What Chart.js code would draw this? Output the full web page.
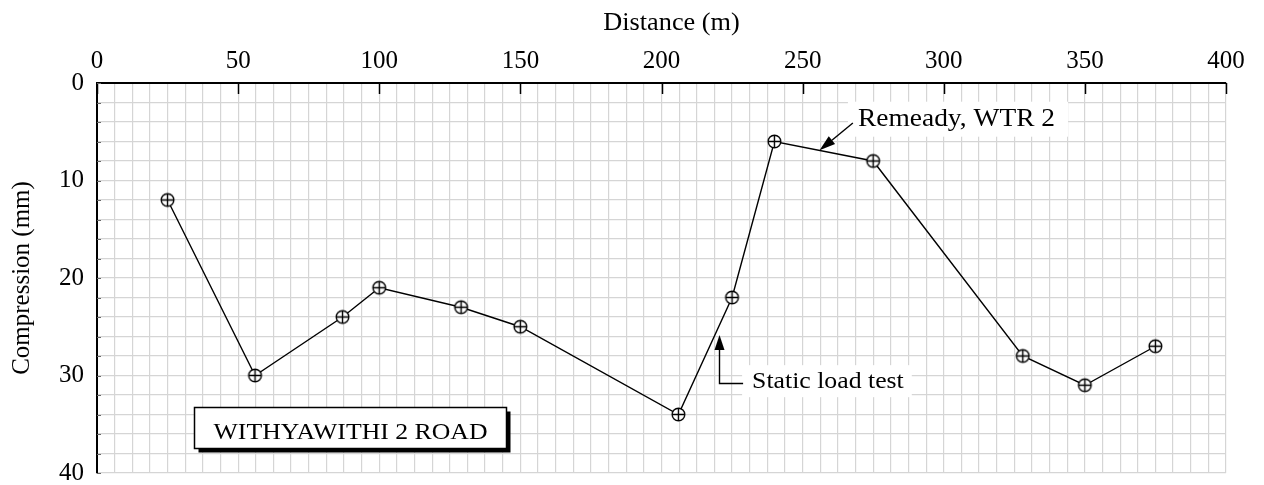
<!DOCTYPE html>
<html>
<head>
<meta charset="utf-8">
<script src="https://cdn.jsdelivr.net/npm/chart.js@4.4.0/dist/chart.umd.min.js"></script>
<style>
  html, body { margin: 0; padding: 0; background: #fff; }
  #wrap { width: 1264px; height: 485px; }
</style>
</head>
<body>
<div id="wrap"><canvas id="c" width="1264" height="485"></canvas></div>
<script>
// Survey stations along the road and measured compression
const distance    = [25, 56, 87, 100, 129, 150, 206, 225, 240, 275, 328, 350, 375];
const compression = [12, 30, 24, 21, 23, 25, 34, 22, 6, 8, 28, 31, 27];

// Labelled ticks on each axis
const xTickLabels = [0, 50, 100, 150, 200, 250, 300, 350, 400];
const yTickLabels = [0, 10, 20, 30, 40];

// Grid spacing (8 divisions per 50 m, 5 per 10 mm)
const xGridStep = 6.25;
const yGridStep = 2;

const SERIF = '"Liberation Serif", "Times New Roman", serif';
const GRID = '#d5d5d5';
const STRETCH = 1.12;

function gridValues(min, max, step) {
  const out = [];
  for (let v = min; v <= max + 1e-9; v += step) out.push(+v.toFixed(4));
  return out;
}

// Circle-with-cross marker
function makeMarker(r) {
  const s = Math.ceil(2 * r + 4);
  const c = document.createElement('canvas');
  c.width = s; c.height = s;
  const g = c.getContext('2d');
  const m = s / 2;
  g.fillStyle = '#fff';
  g.strokeStyle = '#000';
  g.lineWidth = 1.4;
  g.beginPath(); g.arc(m, m, r, 0, Math.PI * 2); g.fill(); g.stroke();
  g.beginPath();
  g.moveTo(m - r, m); g.lineTo(m + r, m);
  g.moveTo(m, m - r); g.lineTo(m, m + r);
  g.stroke();
  return c;
}

function stretchedText(ctx, text, x, y, size, stretch = STRETCH, align = 'left') {
  ctx.save();
  ctx.font = size + 'px ' + SERIF;
  ctx.translate(x, y);
  ctx.scale(stretch, 1);
  ctx.fillStyle = '#000';
  ctx.textBaseline = 'alphabetic';
  ctx.textAlign = align;
  ctx.fillText(text, 0, 0);
  ctx.restore();
}

function measureStretched(ctx, text, size) {
  ctx.save();
  ctx.font = size + 'px ' + SERIF;
  const w = ctx.measureText(text).width * STRETCH;
  ctx.restore();
  return w;
}

function arrow(ctx, x1, y1, x2, y2, headLen, headHalf) {
  const ang = Math.atan2(y2 - y1, x2 - x1);
  const bx = x2 - headLen * Math.cos(ang);
  const by = y2 - headLen * Math.sin(ang);
  ctx.beginPath();
  ctx.moveTo(x1, y1); ctx.lineTo(bx, by);
  ctx.stroke();
  ctx.beginPath();
  ctx.moveTo(x2, y2);
  ctx.lineTo(bx + headHalf * Math.sin(ang), by - headHalf * Math.cos(ang));
  ctx.lineTo(bx - headHalf * Math.sin(ang), by + headHalf * Math.cos(ang));
  ctx.closePath();
  ctx.fill();
}

// Axis title above the top scale, inner axis ticks, callouts and the road name box
const annotations = {
  id: 'annotations',
  afterDatasetsDraw(chart) {
    const { ctx, chartArea, scales } = chart;
    const xs = scales.x, ys = scales.y;
    const px = v => xs.getPixelForValue(v);
    const py = v => ys.getPixelForValue(v);

    ctx.save();
    // top axis title
    stretchedText(ctx, 'Distance (m)', (chartArea.left + chartArea.right) / 2 + 10, 30, 25, 1.05, 'center');

    // major ticks hanging from the top axis
    ctx.strokeStyle = '#000';
    ctx.lineWidth = 1.5;
    xTickLabels.forEach(v => {
      const x = Math.round(px(v)) + 0.5;
      ctx.beginPath(); ctx.moveTo(x, chartArea.top); ctx.lineTo(x, chartArea.top + 11); ctx.stroke();
    });
    // short ticks along the left axis
    ctx.strokeStyle = '#666';
    ctx.lineWidth = 1;
    gridValues(0, 40, yGridStep).forEach(v => {
      const y = Math.round(py(v)) + 0.5;
      ctx.beginPath(); ctx.moveTo(chartArea.left, y); ctx.lineTo(chartArea.left + 4, y); ctx.stroke();
    });

    ctx.strokeStyle = '#000';
    ctx.fillStyle = '#000';
    ctx.lineWidth = 1.4;

    // "Remeady, WTR 2" callout
    {
      const size = 24.5;
      const text = 'Remeady, WTR 2';
      const tx = px(269.6), ty = py(4.38);
      const w = measureStretched(ctx, text, size);
      ctx.fillStyle = '#fff';
      ctx.fillRect(tx - 10, ty - 24, w + 23, 35);
      ctx.fillStyle = '#000';
      stretchedText(ctx, text, tx, ty, size);
      arrow(ctx, px(267.8), py(4.1), px(256), py(6.91), 16, 5);
    }

    // "Static load test" callout
    {
      const size = 23;
      const text = 'Static load test';
      const tx = px(232.1), ty = py(31.3);
      const w = measureStretched(ctx, text, size);
      ctx.fillStyle = '#fff';
      ctx.fillRect(tx - 10, ty - 23, w + 18, 32);
      ctx.fillStyle = '#000';
      stretchedText(ctx, text, tx, ty, size);
      const ax = Math.round(px(220.4)) + 0.5;
      const cy = Math.round(py(30.77)) + 0.5;
      ctx.beginPath();
      ctx.moveTo(tx - 9, cy); ctx.lineTo(ax, cy); ctx.lineTo(ax, py(27.3));
      ctx.stroke();
      arrow(ctx, ax, py(27.4), ax, py(25.85), 15, 5);
    }

    // road name box with drop shadow
    {
      const size = 23;
      const text = 'WITHYAWITHI 2 ROAD';
      const bx = Math.round(px(34.4)) + 0.5, by = Math.round(py(33.2)) + 0.5;
      const w = measureStretched(ctx, text, size);
      const bw = Math.round(w + 38), bh = 41;
      ctx.fillStyle = '#000';
      ctx.fillRect(bx + 4, by + 4, bw, bh);
      ctx.fillStyle = '#fff';
      ctx.fillRect(bx, by, bw, bh);
      ctx.strokeStyle = '#000';
      ctx.lineWidth = 1.5;
      ctx.strokeRect(bx, by, bw, bh);
      stretchedText(ctx, text, bx + 19, by + 31.5, size);
    }
    ctx.restore();
  }
};

new Chart(document.getElementById('c'), {
  type: 'scatter',
  data: {
    datasets: [{
      data: distance.map((d, i) => ({ x: d, y: compression[i] })),
      showLine: true,
      borderColor: '#000',
      borderWidth: 1.4,
      pointStyle: makeMarker(6.3),
      pointRadius: 6,
      pointHoverRadius: 6
    }]
  },
  options: {
    responsive: false,
    animation: false,
    events: [],
    layout: { padding: { left: 0, right: 38, top: 0, bottom: 12 } },
    plugins: { legend: { display: false }, tooltip: { enabled: false } },
    scales: {
      x: {
        type: 'linear',
        position: 'top',
        min: 0, max: 400,
        afterBuildTicks: s => { s.ticks = gridValues(0, 400, xGridStep).map(v => ({ value: v })); },
        afterFit: s => { s.height = 83; s.paddingLeft = 0; s.paddingRight = 0; },
        ticks: {
          autoSkip: false, maxRotation: 0, padding: 7,
          color: '#000',
          font: { family: SERIF, size: 25 },
          callback: v => xTickLabels.includes(v) ? String(v) : ''
        },
        grid: { color: GRID, lineWidth: 1.2, drawTicks: false },
        border: { color: '#000', width: 2 },
        title: { display: false }
      },
      y: {
        type: 'linear',
        reverse: true,
        min: 0, max: 40,
        afterBuildTicks: s => { s.ticks = gridValues(0, 40, yGridStep).map(v => ({ value: v })); },
        afterFit: s => { s.width = 97; s.paddingTop = 0; s.paddingBottom = 0; },
        ticks: {
          autoSkip: false, padding: 13,
          color: '#000',
          font: { family: SERIF, size: 25 },
          callback: v => yTickLabels.includes(v) ? String(v) : ''
        },
        grid: { color: GRID, lineWidth: 1.2, drawTicks: false },
        border: { color: '#000', width: 2 },
        title: {
          display: true, text: 'Compression (mm)', color: '#000',
          font: { family: SERIF, size: 25 },
          padding: { top: 7, bottom: 0 }
        }
      }
    }
  },
  plugins: [annotations]
});
</script>
</body>
</html>
